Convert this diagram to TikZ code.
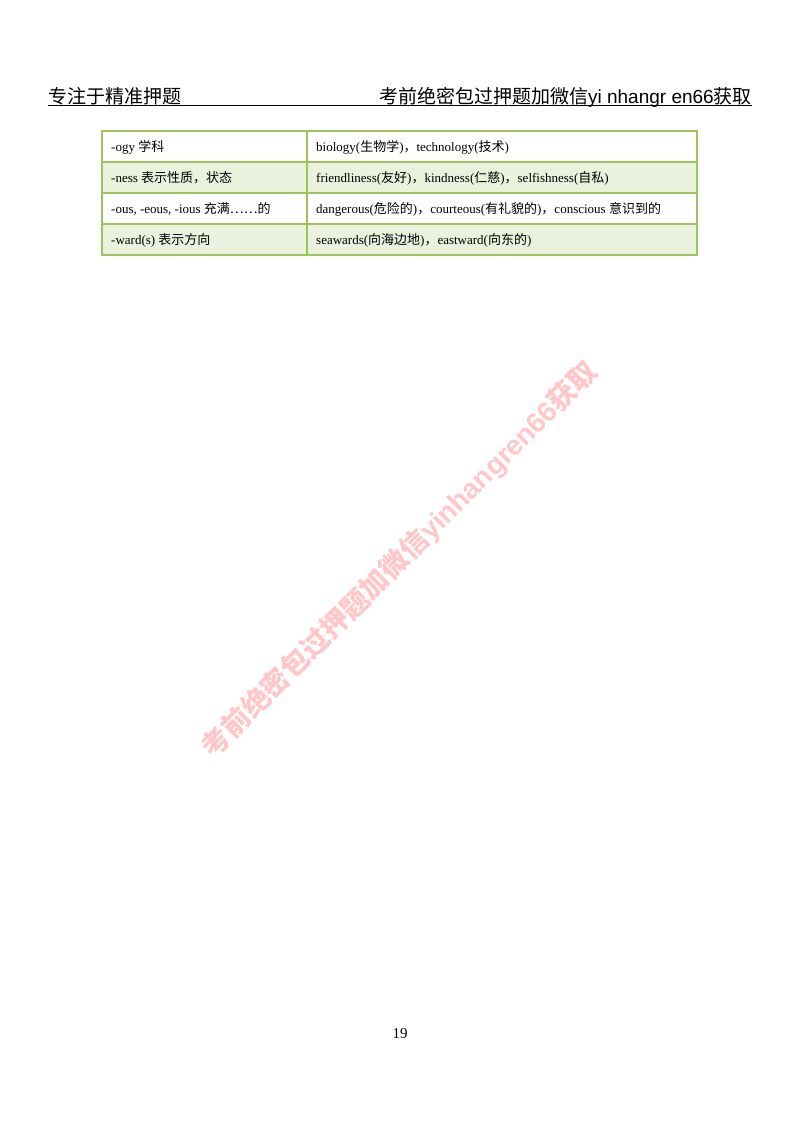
\documentclass[tikz,border=0pt]{standalone}
\usepackage{fontspec}
\setmainfont{Liberation Serif}
\newfontfamily\cjk{Noto Sans CJK SC}
\newfontfamily\hdr{Liberation Sans}
\definecolor{gline}{HTML}{9BC45A}
\definecolor{gfill}{HTML}{EAF1DD}
\newcommand{\cm}{{\cjk ，}}
\tikzset{cell/.style={anchor=west,inner sep=0pt,font=\fontsize{13}{14}\selectfont}}
\begin{document}
\begin{tikzpicture}[x=1pt,y=-1pt]
\useasboundingbox[fill=white] (0,0) rectangle (800,1124);
\node[anchor=base west,inner sep=0pt,font=\fontsize{19}{20}\selectfont\cjk] (hl) at (48,103) {专注于精准押题};
\node[anchor=base east,inner sep=0pt,font=\fontsize{19}{20}\selectfont\cjk] (hr) at (752,103) {考前绝密包过押题加微信{\hdr yi nhangr en66}获取};
\draw[line width=0.8] (48,105) -- (752,105);
\fill[gfill] (102,162) rectangle (697,193);
\fill[gfill] (102,224) rectangle (697,255);
\draw[gline,line width=1.3] (102,131) rectangle (697,255);
\foreach \y in {162,193,224} \draw[gline,line width=1.3] (102,\y) -- (697,\y);
\draw[gline,line width=1.3] (307,131) -- (307,255);
\node[cell] (a1) at (111,147) {-ogy {\cjk 学科}};
\node[cell] (b1) at (316,147) {biology({\cjk 生物学})\cm technology({\cjk 技术})};
\node[cell] (a2) at (111,178) {-ness {\cjk 表示性质，状态}};
\node[cell] (b2) at (316,178) {friendliness({\cjk 友好})\cm kindness({\cjk 仁慈})\cm selfishness({\cjk 自私})};
\node[cell] (a3) at (111,209) {-ous, -eous, -ious {\cjk 充满……的}};
\node[cell] (b3) at (316,209) {dangerous({\cjk 危险的})\cm courteous({\cjk 有礼貌的})\cm conscious {\cjk 意识到的}};
\node[cell] (a4) at (111,240) {-ward(s) {\cjk 表示方向}};
\node[cell] (b4) at (316,240) {seawards({\cjk 向海边地})\cm eastward({\cjk 向东的})};
\node[font=\fontsize{15}{16}\selectfont] (pn) at (400,1034) {19};
\node[rotate=45,text=red,opacity=0.22,font=\fontsize{28}{30}\selectfont\cjk\bfseries] (wm) at (400,560) {考前绝密包过押题加微信{\hdr yinhangren66}获取};
\end{tikzpicture}
\end{document}
